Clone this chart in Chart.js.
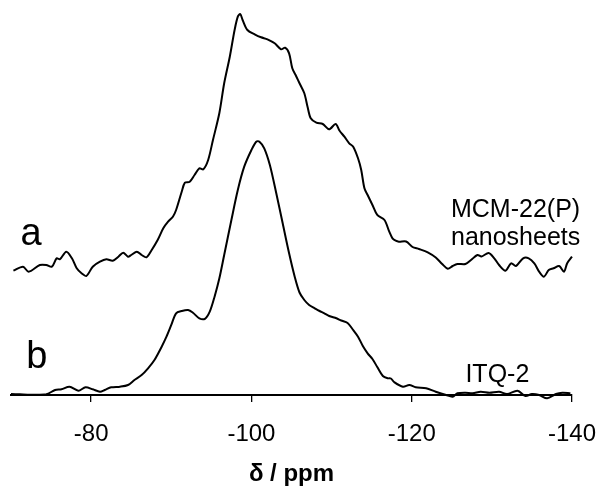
<!DOCTYPE html>
<html>
<head>
<meta charset="utf-8">
<script src="https://cdn.jsdelivr.net/npm/chart.js@4/dist/chart.umd.min.js"></script>
<style>
  html, body { margin: 0; padding: 0; background: #fff; }
  #wrap { width: 600px; height: 487px; }
</style>
</head>
<body>
<div id="wrap"><canvas id="c" width="600" height="487"></canvas></div>
<script>
// 29Si MAS NMR spectra, chemical shift (ppm) vs. stacked intensity (a.u.)
// Spectrum a: MCM-22(P) nanosheets (offset above b)
const shiftA = [
  -70.3, -71.5, -72.2, -73.6, -74.4, -75.1, -75.7, -76.1, -76.9, -77.6,
  -78.2, -78.8, -79.4, -80.2, -81.1, -81.9, -82.7, -83.4, -84.0, -84.6,
  -85.0, -85.7, -86.3, -86.9, -87.5, -88.3, -89.0, -89.6, -90.2, -90.6,
  -91.3, -91.7, -92.3, -92.9, -93.5, -94.0, -94.6, -95.2, -96.0, -96.6,
  -97.3, -97.9, -98.3, -98.6, -98.9, -99.5, -100.4, -101.2, -102.0, -102.9,
  -103.7, -104.2, -104.7, -105.1, -105.6, -106.0, -106.6, -107.0, -107.4, -108.1,
  -108.9, -109.7, -110.5, -111.0, -111.6, -112.2, -112.7, -113.3, -113.7, -114.1,
  -114.5, -115.1, -115.7, -116.6, -117.2, -117.6, -118.0, -118.4, -119.3, -120.1,
  -120.9, -122.0, -123.0, -123.8, -124.5, -125.1, -125.7, -126.7, -127.4, -128.2,
  -128.7, -129.6, -130.3, -130.9, -131.7, -132.4, -133.0, -133.9, -134.6, -135.3,
  -135.9, -136.5, -137.1, -137.7, -138.4, -139.0, -139.4, -140.0
];
const intensityA = [
  124.3, 128.3, 123.3, 130, 130, 128.3, 136.7, 135.7, 143.3, 136.7,
  126.7, 121.7, 119, 128.3, 133.3, 135.7, 134.3, 138.3, 142.3, 138.3,
  140, 143.3, 140, 137.7, 144.3, 155, 166.7, 173.3, 178.3, 185,
  203.3, 212.3, 213.3, 220, 226.7, 225.7, 235, 255, 282, 311.7,
  338.3, 365, 378.3, 381, 375, 365, 360.7, 357.7, 355.7, 351.7,
  345.7, 347.3, 341.7, 326.7, 318.5, 311.7, 301.7, 288.3, 276.7, 272.3,
  271, 265.7, 271, 264.3, 258.3, 251.7, 248.3, 236.7, 225, 206.7,
  200, 190, 180, 175, 163.3, 156.7, 154.3, 153.3, 153.5, 148,
  146, 142.7, 137.5, 131, 126.3, 129, 131, 131, 135, 140,
  138.5, 142, 136.7, 130, 124.3, 131.7, 129, 136.7, 136.7, 131.7,
  123.3, 118.3, 125, 126.7, 129, 123.3, 131.7, 138.3
];

// Spectrum b: ITQ-2
const shiftB = [
  -70.0, -71.1, -72.4, -74.4, -75.5, -76.3, -77.3, -78.4, -79.3, -80.2,
  -81.1, -81.7, -82.5, -83.6, -84.6, -85.4, -86.3, -87.1, -87.9, -88.8,
  -89.4, -90.0, -90.6, -91.3, -92.1, -92.7, -93.5, -94.2, -94.8, -95.4,
  -96.0, -96.6, -97.5, -98.3, -99.1, -100.0, -100.6, -101.0, -101.6, -102.3,
  -103.1, -103.9, -104.7, -105.4, -106.0, -106.6, -107.2, -107.9, -108.5, -109.1,
  -109.7, -110.6, -111.2, -112.0, -112.6, -113.3, -113.9, -114.5, -115.1, -115.7,
  -116.4, -117.0, -117.4, -117.8, -118.9, -119.7, -120.5, -121.8, -123.0, -124.3,
  -125.1, -125.7, -126.7, -127.6, -128.6, -129.7, -130.9, -131.9, -133.2, -134.2,
  -135.0, -135.9, -136.9, -138.0, -138.8, -139.8
];
const intensityB = [
  1, 0.7, 0.3, 0.7, 5, 5.7, 8.3, 4.3, 7.7, 5.7,
  3.3, 5, 7.7, 8.3, 10, 15, 20, 26.7, 35, 48.3,
  58.3, 70, 81.7, 84, 85, 82.3, 76.7, 76.2, 83.3, 98.3,
  116.7, 140, 175, 205, 228.3, 245, 253.3, 253.3, 246.7, 230,
  201.7, 171.7, 141.7, 118.3, 102.5, 95, 90, 86.7, 84, 81.7,
  79, 76.7, 74.5, 72, 66, 58.3, 49, 41.7, 36, 28,
  19, 16.7, 16.5, 13, 8.3, 10, 7.7, 6.7, 3.3, 0,
  -1.7, 1.7, 2.3, 1.7, 3.3, 2.3, 3.3, 1, 4.3, -1,
  1, 0, -3.3, 1, 2.3, 1.7
];

// Axis ticks (ppm)
const tickValues = [-80, -100, -120, -140];

// Spectrum captions
const captionTexts = ['a', 'b', 'MCM-22(P)', 'nanosheets', 'ITQ-2'];

const toPoints = (xs, ys) => xs.map((x, i) => ({ x: x, y: ys[i] }));

const captionStyle = [
  { x: -71.2, y: 150, size: 38 },
  { x: -71.9, y: 27,  size: 38 },
  { x: -124.9, y: 178, size: 25 },
  { x: -124.9, y: 150, size: 25 },
  { x: -126.7, y: 13,  size: 25 }
];

const captionPlugin = {
  id: 'captions',
  afterDatasetsDraw(chart) {
    const { ctx, scales } = chart;
    ctx.save();
    ctx.fillStyle = '#000';
    ctx.textAlign = 'left';
    ctx.textBaseline = 'alphabetic';
    captionTexts.forEach((t, i) => {
      const s = captionStyle[i];
      ctx.font = s.size + 'px "Liberation Sans", Arial, sans-serif';
      ctx.fillText(t, scales.x.getPixelForValue(s.x), scales.y.getPixelForValue(s.y));
    });
    ctx.restore();
  }
};

const lineStyle = {
  borderColor: '#000',
  borderWidth: 2,
  pointRadius: 0,
  tension: 0.3,
  fill: false,
  clip: false
};

new Chart(document.getElementById('c'), {
  type: 'line',
  data: {
    datasets: [
      Object.assign({ label: 'MCM-22(P) nanosheets', data: toPoints(shiftA, intensityA) }, lineStyle),
      Object.assign({ label: 'ITQ-2', data: toPoints(shiftB, intensityB) }, lineStyle)
    ]
  },
  options: {
    responsive: false,
    animation: false,
    devicePixelRatio: 1,
    layout: { padding: { left: 11, right: 0, top: 10, bottom: 0 } },
    plugins: {
      legend: { display: false },
      tooltip: { enabled: false }
    },
    scales: {
      x: {
        type: 'linear',
        min: -140,
        max: -70,
        reverse: true,
        afterBuildTicks(scale) {
          scale.ticks = tickValues.map(v => ({ value: v }));
        },
        afterFit(scale) {
          // room on the right for the last tick label
          scale.paddingRight = 28;
        },
        grid: {
          drawOnChartArea: false,
          drawTicks: true,
          tickLength: 7,
          color: '#000',
          lineWidth: 1.3
        },
        border: { display: true, color: '#000', width: 2 },
        ticks: {
          color: '#000',
          padding: 9,
          maxRotation: 0,
          autoSkip: false,
          font: { family: '"Liberation Sans", Arial, sans-serif', size: 24, lineHeight: 1.917 }
        },
        title: {
          display: true,
          text: 'δ / ppm',
          color: '#000',
          padding: { top: 0, bottom: 4.5 },
          font: { family: '"Liberation Sans", Arial, sans-serif', size: 24, weight: 'bold', lineHeight: 0.6875 }
        }
      },
      y: {
        display: false,
        min: 0,
        max: 385
      }
    }
  },
  plugins: [captionPlugin]
});
</script>
</body>
</html>
